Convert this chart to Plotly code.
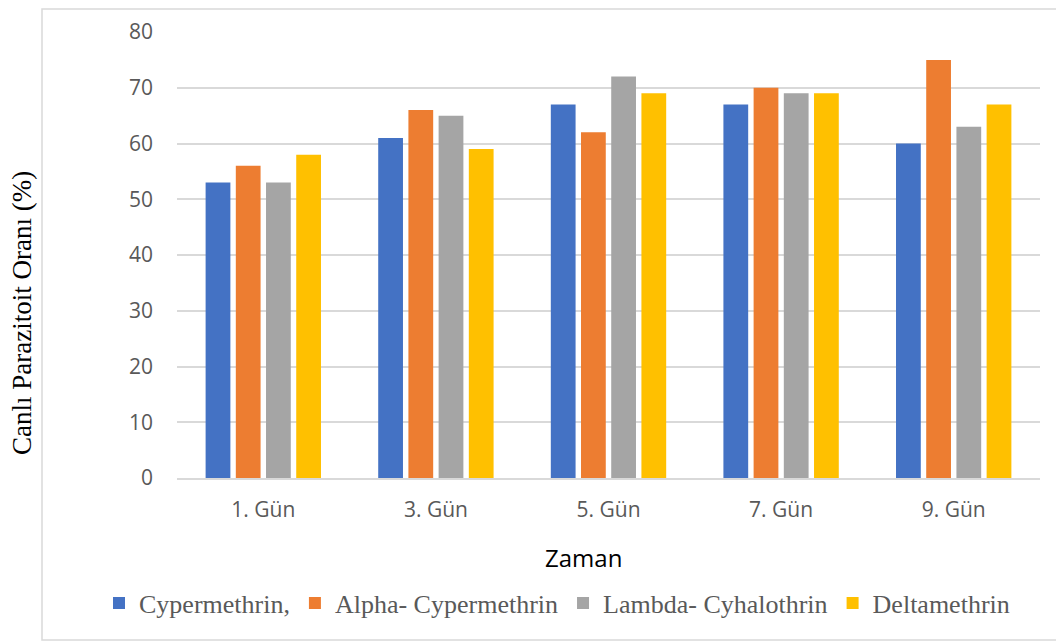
import plotly.graph_objects as go

categories = ["1. Gün", "3. Gün", "5. Gün", "7. Gün", "9. Gün"]
series_names = ["Cypermethrin,", "Alpha- Cypermethrin", "Lambda- Cyhalothrin", "Deltamethrin"]
cypermethrin = [53, 61, 67, 67, 60]
alpha_cypermethrin = [56, 66, 62, 70, 75]
lambda_cyhalothrin = [53, 65, 72, 69, 63]
deltamethrin = [58, 59, 69, 69, 67]
colors = ["#4472C4", "#ED7D31", "#A5A5A5", "#FFC000"]
y_ticks = [0, 10, 20, 30, 40, 50, 60, 70, 80]

fig = go.Figure()
for name, vals, col in zip(series_names,
                           [cypermethrin, alpha_cypermethrin, lambda_cyhalothrin, deltamethrin],
                           colors):
    fig.add_trace(go.Bar(x=categories, y=vals, name=name, marker_color=col,
                         marker_line_width=0))

OFF = 8  # page body margin offset
W, H = 1064, 642
L, T = 169, 24
PLOT_R, PLOT_B = 1032, 470
R, B = W - PLOT_R, H - PLOT_B
PW, PH = PLOT_R - L, PLOT_B - T


def px_x(p):
    return (p - OFF - L) / PW


def px_y(p):
    return (PLOT_B - (p - OFF)) / PH


fig.update_layout(
    width=W, height=H,
    margin=dict(l=L, r=R, t=T, b=B, autoexpand=False),
    paper_bgcolor="white", plot_bgcolor="white",
    barmode="group", bargap=0.3, bargroupgap=0.18,
    showlegend=True,
    legend=dict(orientation="h",
                x=px_x(99), xanchor="left",
                y=px_y(603), yanchor="middle",
                font=dict(family="Liberation Serif", size=26, color="#595959"),
                itemwidth=30, tracegroupgap=0, bgcolor="rgba(0,0,0,0)"),
    xaxis=dict(tickfont=dict(family="Open Sans", size=21, color="#595959"),
               showline=True, linecolor="#D9D9D9", linewidth=1.5,
               showgrid=False, ticks="", ticklabelstandoff=12),
    yaxis=dict(range=[0, 80], tickvals=y_ticks,
               tickfont=dict(family="Open Sans", size=21, color="#595959"),
               showgrid=True, gridcolor="#D9D9D9", gridwidth=1.5,
               zeroline=False, showline=False, ticks="", ticklabelstandoff=23),
    font=dict(family="Open Sans"),
)

fig.add_annotation(text="Canlı Parazitoit Oranı (%)", xref="paper", yref="paper",
                   x=px_x(22), y=px_y(313), xanchor="center", yanchor="middle",
                   textangle=-90, showarrow=False,
                   font=dict(family="Liberation Serif", size=27, color="black"))
fig.add_annotation(text="Zaman", xref="paper", yref="paper",
                   x=px_x(583), y=px_y(557), xanchor="center", yanchor="middle",
                   showarrow=False,
                   font=dict(family="Open Sans", size=24, color="black"))

fig.add_shape(type="rect", xref="paper", yref="paper",
              x0=px_x(42), x1=px_x(1070), y0=px_y(640), y1=px_y(9),
              line=dict(color="#D9D9D9", width=1.5), fillcolor="rgba(0,0,0,0)", layer="below")

fig.write_html("out.html")
